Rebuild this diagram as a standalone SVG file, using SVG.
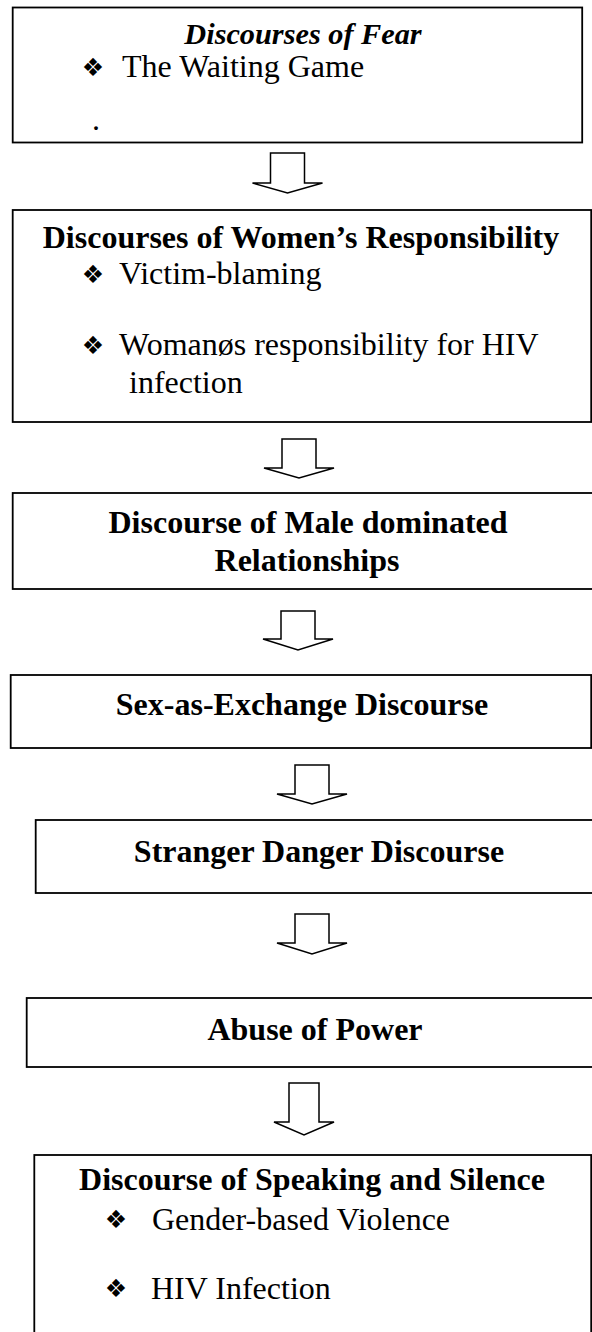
<svg xmlns="http://www.w3.org/2000/svg" width="592" height="1332" viewBox="0 0 592 1332">
<style>
.box{fill:#fff;stroke:#000;stroke-width:1.8}
.arr{fill:#fff;stroke:#000;stroke-width:1.5;stroke-linejoin:miter}
.t{font-family:"Liberation Serif","Times New Roman",serif;font-size:32px;fill:#000}
.b{font-weight:bold}
.bi{font-weight:bold;font-style:italic;font-size:30.3px}
.c{text-anchor:middle}
.bul{font-family:"DejaVu Sans",sans-serif;font-size:25px;fill:#000;text-anchor:middle}
</style>
<rect width="592" height="1332" fill="#fff"/>
<g id="connectors">
<path class="arr" d="M270.5,153 L304.5,153 L304.5,183 L322.5,183 L287.5,193 L252.5,183 L270.5,183 Z"/>
<path class="arr" d="M282,439 L316,439 L316,468 L334,468 L299,478 L264,468 L282,468 Z"/>
<path class="arr" d="M281,611 L315,611 L315,639 L333,639 L298,650 L263,639 L281,639 Z"/>
<path class="arr" d="M295,765 L329,765 L329,794 L347,794 L312,804 L277,794 L295,794 Z"/>
<path class="arr" d="M295,914 L329,914 L329,943 L347,943 L312,954 L277,943 L295,943 Z"/>
<path class="arr" d="M289,1083 L319,1083 L319,1122 L334,1122 L304,1135 L274,1122 L289,1122 Z"/>
</g>
<g id="node1">
<rect class="box" x="12.7" y="7.5" width="569.5" height="135"/>
<text class="t bi c" x="303" y="44">Discourses of Fear</text>
<text class="bul" x="93" y="76">❖</text>
<text class="t" x="122" y="77" font-size="33">The Waiting Game</text>
<text class="t" x="92" y="130" font-size="8" fill="#666">.</text>
</g>
<g id="node2">
<rect class="box" x="12.7" y="210" width="578.5" height="212"/>
<text class="t b c" x="301" y="248">Discourses of Women’s Responsibility</text>
<text class="bul" x="93" y="283">❖</text>
<text class="t" x="119" y="284">Victim-blaming</text>
<text class="bul" x="93" y="354">❖</text>
<text class="t" x="119" y="355">Womanøs responsibility for HIV</text>
<text class="t" x="129" y="393">infection</text>
</g>
<g id="node3">
<rect class="box" x="12.7" y="493" width="590" height="96"/>
<text class="t b c" x="308" y="533">Discourse of Male dominated</text>
<text class="t b c" x="307" y="571">Relationships</text>
</g>
<g id="node4">
<rect class="box" x="10.7" y="675" width="580.5" height="73"/>
<text class="t b c" x="302" y="715">Sex-as-Exchange Discourse</text>
</g>
<g id="node5">
<rect class="box" x="35.7" y="820" width="570" height="73"/>
<text class="t b c" x="319" y="862">Stranger Danger Discourse</text>
</g>
<g id="node6">
<rect class="box" x="26.7" y="998" width="580" height="69"/>
<text class="t b c" x="315" y="1040">Abuse of Power</text>
</g>
<g id="node7">
<rect class="box" x="34.3" y="1155" width="556.9" height="200"/>
<text class="t b c" x="312" y="1190">Discourse of Speaking and Silence</text>
<text class="bul" x="116" y="1228">❖</text>
<text class="t" x="152" y="1230">Gender-based Violence</text>
<text class="bul" x="116" y="1297">❖</text>
<text class="t" x="151" y="1299">HIV Infection</text>
</g>
</svg>
